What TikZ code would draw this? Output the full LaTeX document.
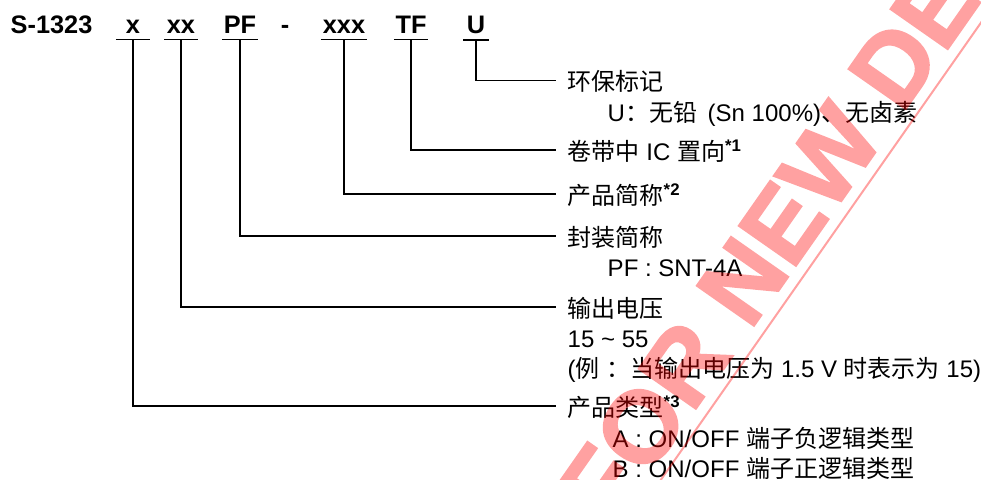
\documentclass[tikz,border=0pt]{standalone}
\usepackage{fontspec}
\setmainfont{Liberation Sans}
\newfontfamily\cjk{Noto Sans CJK SC}
\newfontfamily\wmfont{Liberation Sans}[BoldFeatures={FakeBold=2}]
\newcommand{\zh}[1]{{\cjk #1}}
\newcommand{\hdrfont}{\fontsize{19}{23}\selectfont\bfseries}
\newcommand{\txtfont}{\fontsize{18}{22}\selectfont}

\begin{document}
\begin{tikzpicture}[x=0.75pt, y=-0.75pt, line width=1.1pt,
	field/.style={font=\hdrfont, inner xsep=0pt, inner ysep=4.5pt, minimum width=#1*0.75pt, anchor=base},
	desc/.style={font=\txtfont, inner xsep=8.25pt, inner ysep=0pt, anchor=base west},
	note/.style={font=\txtfont, inner sep=0pt, anchor=base west}]
	\useasboundingbox (0,0) rectangle (981,479);

	% part number
	\node [font=\hdrfont, inner sep=0pt, anchor=base west] (s1323) at (10,33) {S-1323};
	\node [field=33] (x) at (133,33) {x};
	\node [field=32] (xx) at (181,33) {xx};
	\node [field=34] (pf) at (240,33) {PF};
	\node [font=\hdrfont, inner sep=0pt, anchor=base] (dash) at (285,33) {-};
	\node [field=45] (xxx) at (344,33) {xxx};
	\node [field=33] (tf) at (411,33) {TF};
	\node [field=24] (u) at (476,33) {U};
	\foreach \n in {x, xx, pf, xxx, tf, u}
		\draw (\n.south west) -- (\n.south east);

	% descriptions
	\node [desc] (eco) at (556,90.5) {\zh{环保标记}};
	\node [note] (eco-u) at (607,121) {U\zh{：无铅}\hspace{3pt} (Sn 100\%)\zh{、无卤素}};
	\node [desc] (reel) at (556,160) {\zh{卷带中} IC \zh{置向}\textsuperscript{\bfseries *1}};
	\node [desc] (name) at (556,204) {\zh{产品简称}\textsuperscript{\bfseries *2}};
	\node [desc] (pkg) at (556,246) {\zh{封装简称}};
	\node [note] (pkg-pf) at (607,276) {PF : SNT-4A};
	\node [desc] (volt) at (556,317) {\zh{输出电压}};
	\node [note] (volt-range) at (567,347) {15 \textasciitilde{} 55};
	\node [note] (volt-ex) at (567,377) {(\zh{例} \zh{：当输出电压为} 1.5 V \zh{时表示为} 15)};
	\node [desc] (type) at (556,416) {\zh{产品类型}\textsuperscript{\bfseries *3}};
	\node [note] (type-a) at (612,447) {A : ON/OFF \zh{端子负逻辑类型}};
	\node [note] (type-b) at (612,477) {B : ON/OFF \zh{端子正逻辑类型}};

	\foreach \a/\b in {u/eco, tf/reel, xxx/name, pf/pkg, xx/volt, x/type}
		\draw (\a.south) |- ([yshift=7.5pt]\b.base west);

	% watermark
	\begin{scope}[transparency group, opacity=0.37]
	\begin{scope}[shift={(770,242)}, rotate=55, red]
		\node [font=\fontsize{76}{80}\selectfont\wmfont\bfseries, inner sep=0pt, transform shape] (wm) at (0,0) {NOT FOR NEW DESIGN};
		\draw [line width=1.5pt] (-700,47) -- (700,47);
	\end{scope}
	\end{scope}
\end{tikzpicture}
\end{document}
